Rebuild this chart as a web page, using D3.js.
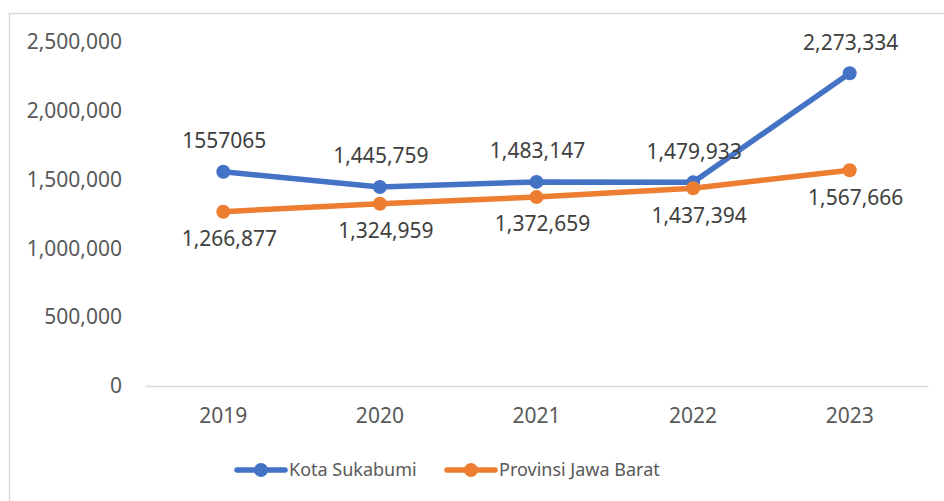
<!DOCTYPE html>
<html>
<head>
<meta charset="utf-8">
<script src="https://cdn.jsdelivr.net/npm/d3@7"></script>
<style>
  html, body { margin: 0; padding: 0; background: #fff; }
  svg { display: block; font-family: "Noto Sans", "Open Sans", sans-serif; }
</style>
</head>
<body>
<div id="chart"></div>
<script>
// ---- data ----
const years = ["2019", "2020", "2021", "2022", "2023"];
const kotaValues = [1557065, 1445759, 1483147, 1479933, 2273334];
const provValues = [1266877, 1324959, 1372659, 1437394, 1567666];
const kotaLabels = ["1557065", "1,445,759", "1,483,147", "1,479,933", "2,273,334"];
const provLabels = ["1,266,877", "1,324,959", "1,372,659", "1,437,394", "1,567,666"];
const yTicks = [0, 500000, 1000000, 1500000, 2000000, 2500000];
const seriesNames = ["Kota Sukabumi", "Provinsi Jawa Barat"];

// ---- layout ----
const W = 944, H = 501;
const plot = { left: 145, right: 928, top: 42, bottom: 386 };
const fontSize = 21;
const legendFont = 18;
const colors = ["#4472C4", "#ED7D31"];

const svg = d3.select("#chart").append("svg")
  .attr("width", W)
  .attr("height", H);

// chart frame (right / bottom edges fall off the picture)
svg.append("rect")
  .attr("x", 9.5).attr("y", 13.5)
  .attr("width", W + 20).attr("height", H + 20)
  .attr("fill", "none")
  .attr("stroke", "#d9d9d9")
  .attr("stroke-width", 1.5);

const x = d3.scaleBand().domain(years).range([plot.left, plot.right]);
const y = d3.scaleLinear().domain([0, 2500000]).range([plot.bottom, plot.top]);

// y axis (labels only)
const yAxis = d3.axisLeft(y)
  .tickValues(yTicks)
  .tickFormat(d3.format(","))
  .tickSize(0)
  .tickPadding(0);
const gy = svg.append("g")
  .attr("transform", "translate(122,0)")
  .call(yAxis);
gy.select(".domain").remove();
gy.selectAll("text")
  .attr("font-size", fontSize)
  .attr("font-family", "Noto Sans, sans-serif")
  .attr("fill", "#595959");

// x axis
const xAxis = d3.axisBottom(x).tickSize(0).tickPadding(22);
const gx = svg.append("g")
  .attr("transform", `translate(0,${plot.bottom})`)
  .call(xAxis);
gx.select(".domain")
  .attr("stroke", "#d9d9d9")
  .attr("stroke-width", 1.5);
gx.selectAll("text")
  .attr("font-size", fontSize)
  .attr("font-family", "Noto Sans, sans-serif")
  .attr("fill", "#595959");

// ---- series ----
const series = [
  { name: seriesNames[0], values: kotaValues, labels: kotaLabels, color: colors[0], dx: 1, dy: -31 },
  { name: seriesNames[1], values: provValues, labels: provLabels, color: colors[1], dx: 6, dy: 27 }
];

const line = d3.line()
  .x((d, i) => x(years[i]) + x.bandwidth() / 2)
  .y(d => y(d));

series.forEach(s => {
  const g = svg.append("g");
  g.append("path")
    .datum(s.values)
    .attr("d", line)
    .attr("fill", "none")
    .attr("stroke", s.color)
    .attr("stroke-width", 5.5)
    .attr("stroke-linejoin", "round")
    .attr("stroke-linecap", "round");

  g.selectAll("circle")
    .data(s.values)
    .join("circle")
    .attr("cx", (d, i) => x(years[i]) + x.bandwidth() / 2)
    .attr("cy", d => y(d))
    .attr("r", 7)
    .attr("fill", s.color);
});

// data labels drawn last so they sit on top
series.forEach(s => {
  svg.append("g").selectAll("text")
    .data(s.values)
    .join("text")
    .attr("x", (d, i) => x(years[i]) + x.bandwidth() / 2 + s.dx)
    .attr("y", d => y(d) + s.dy)
    .attr("dy", "0.35em")
    .attr("text-anchor", "middle")
    .attr("font-size", fontSize)
    .attr("fill", "#404040")
    .text((d, i) => s.labels[i]);
});

// ---- legend ----
const legendY = 470;
const legendX = [237, 447];
series.forEach((s, i) => {
  const g = svg.append("g").attr("transform", `translate(${legendX[i]},${legendY})`);
  g.append("line")
    .attr("x1", 0).attr("x2", 48)
    .attr("y1", 0).attr("y2", 0)
    .attr("stroke", s.color)
    .attr("stroke-width", 5.5)
    .attr("stroke-linecap", "round");
  g.append("circle")
    .attr("cx", 24).attr("cy", 0).attr("r", 7)
    .attr("fill", s.color);
  g.append("text")
    .attr("x", 52).attr("y", 0)
    .attr("dy", "0.35em")
    .attr("font-size", legendFont)
    .attr("fill", "#595959")
    .text(s.name);
});
</script>
</body>
</html>
